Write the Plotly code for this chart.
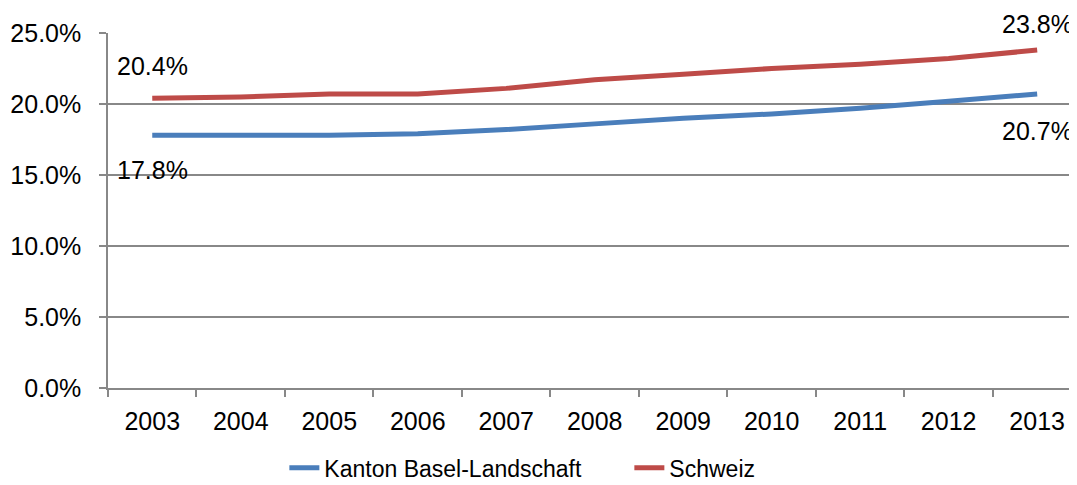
import plotly.graph_objects as go

years = ["2003", "2004", "2005", "2006", "2007", "2008", "2009", "2010", "2011", "2012", "2013"]
basel_land = [17.8, 17.8, 17.8, 17.9, 18.2, 18.6, 19.0, 19.3, 19.7, 20.2, 20.7]
schweiz = [20.4, 20.5, 20.7, 20.7, 21.1, 21.7, 22.1, 22.5, 22.8, 23.2, 23.8]
series_names = ["Kanton Basel-Landschaft", "Schweiz"]
y_ticks = [0, 5, 10, 15, 20, 25]

BLUE = "#4A7EBB"
RED = "#BE4B48"
GRID = "#888888"
FONT = "Liberation Sans, Arial, sans-serif"
FS = 25

fig = go.Figure()
fig.add_trace(go.Scatter(x=years, y=basel_land, mode="lines", name=series_names[0],
                         line=dict(color=BLUE, width=5), cliponaxis=False))
fig.add_trace(go.Scatter(x=years, y=schweiz, mode="lines", name=series_names[1],
                         line=dict(color=RED, width=5), cliponaxis=False))

# data labels on first and last points
first, last = 0, len(years) - 1
ann = [
    (first, schweiz[first], 32),
    (first, basel_land[first], -35),
    (last, schweiz[last], 26),
    (last, basel_land[last], -37),
]
annotations = []
for xi, v, ys in ann:
    annotations.append(dict(x=xi, y=v, xref="x", yref="y", text=f"{v:.1f}%",
                            showarrow=False, yshift=ys,
                            xanchor="center", yanchor="middle",
                            font=dict(family=FONT, size=FS, color="#000000")))

# the page body adds an 8px margin, so the figure is sized/offset to compensate
fig.update_layout(
    width=1069, height=477,
    margin=dict(l=100, r=0, t=25, b=97, autoexpand=False),
    paper_bgcolor="white", plot_bgcolor="white",
    font=dict(family=FONT, size=FS, color="#000000"),
    showlegend=True,
    annotations=annotations,
    legend=dict(orientation="h", x=0.182, xanchor="left", y=-0.225, yanchor="middle",
                font=dict(family=FONT, size=23), entrywidth=300, entrywidthmode="pixels",
                bgcolor="rgba(0,0,0,0)"),
    xaxis=dict(type="category", range=[-0.5, 10.45], tickson="boundaries",
               ticks="outside", ticklen=7, tickcolor=GRID, tickwidth=1.5,
               showline=True, linecolor=GRID, linewidth=1.5, showgrid=False,
               zeroline=False, ticklabelstandoff=10, tickfont=dict(family=FONT, size=FS)),
    yaxis=dict(range=[0, 25], tickvals=y_ticks, ticktext=[f"{t:.1f}%" for t in y_ticks],
               ticks="outside", ticklen=7, tickcolor=GRID, tickwidth=1.5,
               showline=True, linecolor=GRID, linewidth=1.5,
               showgrid=True, gridcolor=GRID, gridwidth=1.5, zeroline=False,
               ticklabelstandoff=13, tickfont=dict(family=FONT, size=FS)),
)

fig.write_html("out.html")
